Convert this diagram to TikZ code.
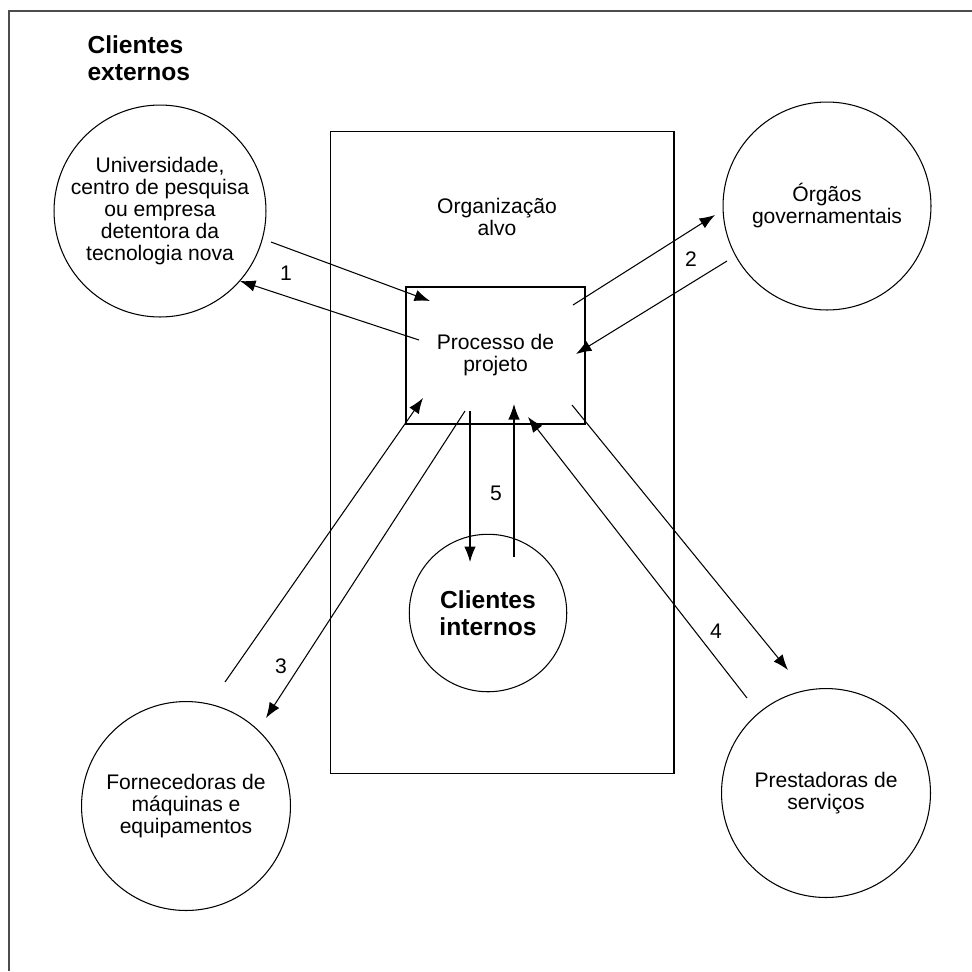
\documentclass[tikz,border=0pt]{standalone}
\usepackage{fontspec}
\setmainfont{Liberation Sans}
\usetikzlibrary{arrows.meta}

\tikzset{
  texto/.style={font=\fontsize{12}{12.5}\selectfont},
  negrito/.style={font=\fontsize{14}{15.3}\selectfont\bfseries},
  ator/.style={draw, circle, inner sep=0pt, align=center, texto},
  caixa/.style={draw, rectangle, inner sep=0pt, align=center, texto}
}

\begin{document}
\begin{tikzpicture}[x=0.02cm, y=-0.02cm, >={Latex[length=3.1mm,width=2.3mm]}, line width=0.6pt]

\useasboundingbox (0,0) rectangle (972,971);

\draw[line width=1.1pt, black!70] (9,971) -- (9,11) -- (972,11);

\node[negrito, align=left, anchor=west, inner sep=0pt] (externos) at (87,58.5) {Clientes\\externos};

\node[draw, minimum width=6.88cm, minimum height=12.86cm] (org) at (502,452.5) {};
\node[texto, align=center] (orgtxt) at (497,216.5) {Organização\\alvo};

\node[caixa, minimum width=3.58cm, minimum height=2.74cm] (proc) at (495.5,355.5) {Processo de\\projeto};

\node[ator, minimum size=4.24cm] (univ) at (160,211)
{Universidade,\\centro de pesquisa\\ou empresa\\detentora da\\tecnologia nova};

\node[ator, minimum size=4.16cm] (orgaos) at (827,206) {Órgãos\\governamentais};

\node[ator, minimum size=4.18cm] (fornec) at (186,806) {Fornecedoras de\\máquinas e\\equipamentos};

\node[ator, minimum size=4.18cm] (prest) at (826,793) {Prestadoras de\\serviços};

\node[ator, negrito, minimum size=3.15cm] (internos) at (488,613) {Clientes\\internos};

\coordinate (u1) at (271,242);
\coordinate (u2) at (430,301);
\draw[->] (u1) -- (u2);
\coordinate (v1) at (419,340);
\coordinate (v2) at (240,281);
\draw[->] (v1) -- (v2);
\node[texto] (n1) at (286,273) {1};

\coordinate (g1) at (573,305);
\coordinate (g2) at (715,215);
\draw[->] (g1) -- (g2);
\coordinate (h1) at (727,261);
\coordinate (h2) at (576,354);
\draw[->] (h1) -- (h2);
\node[texto] (n2) at (691,259) {2};

\coordinate (f1) at (225,682);
\coordinate (f2) at (423,398);
\draw[->] (f1) -- (f2);
\coordinate (m1) at (465,411);
\coordinate (m2) at (266,718);
\draw[->] (m1) -- (m2);
\node[texto] (n3) at (281,666) {3};

\coordinate (p1) at (572,405);
\coordinate (p2) at (788,670);
\draw[->] (p1) -- (p2);
\coordinate (s1) at (747,698);
\coordinate (s2) at (528,417);
\draw[->] (s1) -- (s2);
\node[texto] (n4) at (716,631) {4};

\coordinate (c1) at (470,411);
\coordinate (c2) at (470,562);
\draw[->] (c1) -- (c2);
\coordinate (d1) at (514,557);
\coordinate (d2) at (514,404);
\draw[->] (d1) -- (d2);
\node[texto] (n5) at (496,493) {5};

\end{tikzpicture}
\end{document}
